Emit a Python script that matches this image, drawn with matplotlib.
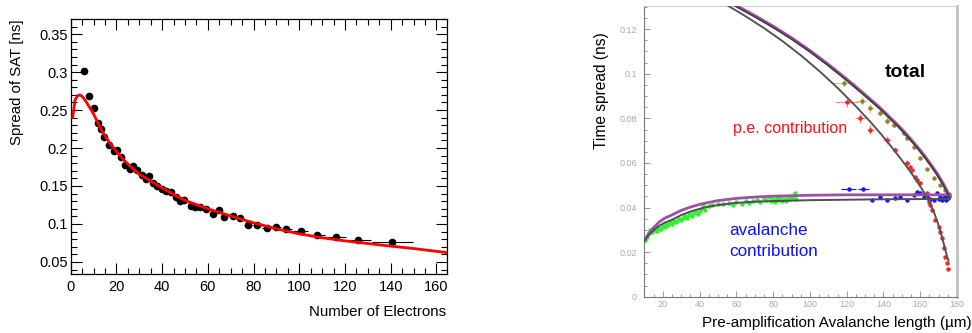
import matplotlib
matplotlib.use("Agg")
import matplotlib.pyplot as plt
from matplotlib.ticker import MultipleLocator, FixedLocator

plt.rcParams['font.family'] = ['Liberation Sans', 'DejaVu Sans']

# left panel: spread of SAT vs number of electrons
ne = [5.7, 7.9, 10.1, 11.8, 13.3, 14.7, 16.6, 18.9, 20.4, 21.9, 23.8, 26.0, 27.4, 28.9,
      31.0, 32.8, 34.4, 36.1, 37.6, 39.8, 41.5, 43.7, 45.9, 47.8, 49.7, 52.5, 54.6, 56.7,
      59.2, 62.1, 64.8, 67.2, 70.8, 74.0, 77.7, 81.6, 85.7, 89.8, 94.4, 100.7, 107.6,
      116.0, 125.9, 140.6]
sat = [0.302, 0.2686, 0.253, 0.2325, 0.2246, 0.215, 0.204, 0.1965, 0.198, 0.188, 0.1775,
       0.173, 0.176, 0.171, 0.165, 0.1587, 0.163, 0.1542, 0.150, 0.1455, 0.1433, 0.1424,
       0.1349, 0.1305, 0.1322, 0.1235, 0.1217, 0.1217, 0.1195, 0.1129, 0.1182, 0.1094,
       0.1107, 0.1085, 0.0984, 0.0984, 0.0944, 0.0957, 0.094, 0.0909, 0.0861, 0.083,
       0.0795, 0.076]
ne_err = [1.0] * 33 + [1.5, 1.8, 2.0, 2.0, 2.3, 2.6, 3.3, 3.7, 4.5, 5.5, 9.0]
sat_err = [0.004, 0.004, 0.003] + [0.002] * 41

fit_x = [0.9, 1.9, 3.0, 4.1, 5.2, 6.3, 8, 10, 12, 14.3, 17, 20, 23, 26, 30, 35, 40, 45,
         50, 55, 60, 70, 80, 90, 100, 110, 120, 130, 140, 150, 164.5]
fit_y = [0.2405, 0.263, 0.2690, 0.2699, 0.2675, 0.263, 0.255, 0.245, 0.2325, 0.2195,
         0.207, 0.1955, 0.185, 0.176, 0.1655, 0.1565, 0.1475, 0.139, 0.131, 0.1255, 0.120,
         0.1105, 0.1015, 0.0935, 0.0870, 0.0818, 0.0777, 0.0742, 0.0708, 0.0676, 0.0623]

# right panel: time spread vs pre-amplification avalanche length
av_x = [10, 12, 15, 18, 21, 25, 30, 35, 40, 45, 50, 60, 70, 80, 100, 120, 140, 160, 176]
av_fit1 = [0.0253, 0.0280, 0.0310, 0.0335, 0.0352, 0.0367, 0.0387, 0.0402, 0.0414, 0.0423,
           0.0431, 0.0441, 0.0447, 0.0451, 0.0455, 0.0457, 0.0457, 0.0457, 0.0457]
av_fit2 = [0.0250, 0.0273, 0.0298, 0.0318, 0.0332, 0.0345, 0.0366, 0.0382, 0.0394, 0.0404,
           0.0411, 0.0421, 0.0426, 0.0429, 0.0433, 0.0435, 0.0437, 0.0438, 0.0438]

tot_x = [56, 60.3, 70, 80, 90, 100, 110, 120, 130, 138.3, 148, 152, 156.4, 160, 163, 166,
         169.1, 172.5, 174.6, 176]
tot_y = [0.1323, 0.1304, 0.1260, 0.1212, 0.1160, 0.1103, 0.1041, 0.0975, 0.0905, 0.0845,
         0.0767, 0.0732, 0.0691, 0.0655, 0.0623, 0.0589, 0.0552, 0.0506, 0.0472, 0.0449]

pe_x = [52, 55.7, 65, 75, 85, 95, 105, 115, 125, 133, 138.3, 143, 148, 152, 156.4, 159, 162,
        165.5, 167.5, 169.5, 171.5, 173.5, 174.6, 175.4]
pe_y = [0.1322, 0.1304, 0.1258, 0.1205, 0.1147, 0.1083, 0.1013, 0.0937, 0.0854, 0.0783,
        0.0733, 0.0686, 0.0634, 0.0590, 0.0540, 0.0508, 0.0468, 0.0415, 0.0378, 0.0332,
        0.0278, 0.0215, 0.0180, 0.0162]

green_x = [10.5, 11.5, 12.5, 13, 14, 15, 16, 17, 18, 19, 20, 21, 22, 23, 24, 25, 26, 27, 28,
           29, 30, 31, 32, 33, 34, 35, 36, 37, 38, 39, 40, 41, 42, 43, 45, 47, 50, 53, 56,
           58, 60, 63, 65, 67, 69, 71, 73, 75, 76, 78, 79, 80, 81, 82, 83, 84, 85, 86, 87,
           88, 89, 90, 91, 92, 92.5]
green_y = [0.0255, 0.0270, 0.0285, 0.0300, 0.0290, 0.0298, 0.0302, 0.0295, 0.0310, 0.0305,
           0.0318, 0.0312, 0.0325, 0.0320, 0.0333, 0.0328, 0.0340, 0.0335, 0.0345, 0.0350,
           0.0342, 0.0355, 0.0360, 0.0352, 0.0365, 0.0370, 0.0362, 0.0375, 0.0380, 0.0372,
           0.0385, 0.0395, 0.0410, 0.0390, 0.0405, 0.0410, 0.0418, 0.0415, 0.0420, 0.0412,
           0.0425, 0.0418, 0.0430, 0.0420, 0.0428, 0.0435, 0.0425, 0.0440, 0.0432, 0.0445,
           0.0430, 0.0438, 0.0425, 0.0442, 0.0435, 0.0448, 0.0430, 0.0440, 0.0428, 0.0445,
           0.0438, 0.0450, 0.0442, 0.0465, 0.0440]

blue_x = [133.7, 138.3, 141.9, 146.4, 149.1, 152.8, 156.4, 158.2, 160, 162, 163.7, 165.5,
          167.3, 169.1, 170.2, 170.9, 171.8, 172.7, 173.5, 174.2, 174.6, 175.2, 175.6]
blue_y = [0.0434, 0.0449, 0.0434, 0.0441, 0.0449, 0.0434, 0.0456, 0.0471, 0.0464, 0.0445,
          0.0449, 0.0440, 0.0434, 0.0464, 0.0440, 0.0449, 0.0434, 0.0441, 0.0452, 0.0436,
          0.0456, 0.0444, 0.0450]
blue_bar_x = [121.1, 128.9]
blue_bar_y = [0.0484, 0.0484]
blue_bar_err = [4.0, 3.0]

red_x = [120.1, 127.4, 132.8, 141.9, 146.4, 152.8, 154.6, 155.5, 157.3, 158.2, 160, 163.7,
         164.6, 165.5, 166.4, 168.2, 170, 170.9, 171.8, 172.7, 173.6, 174.6, 175]
red_y = [0.0875, 0.0800, 0.0748, 0.0703, 0.0658, 0.0598, 0.0583, 0.0569, 0.0538, 0.0525,
         0.0509, 0.0464, 0.0426, 0.0411, 0.0389, 0.0344, 0.0314, 0.0292, 0.0262, 0.0217,
         0.0179, 0.0150, 0.0124]
red_xerr = [6, 3, 2, 2, 1.5, 1.5] + [0] * 17
red_yerr = [0.0022, 0.002, 0.002, 0.002, 0.0015, 0.0015] + [0] * 17

olive_x = [118.3, 128.3, 132.8, 138.3, 141.9, 145.6, 151, 152.8, 156.4, 160, 163.7, 167.3,
           170.9, 173.6, 175.6]
olive_y = [0.0960, 0.0880, 0.0845, 0.0825, 0.0790, 0.0770, 0.0735, 0.0712, 0.0670, 0.0620,
           0.0575, 0.0531, 0.0500, 0.0479, 0.0462]
olive_xerr = [6, 3, 2, 2, 1.5, 1.5, 1.5] + [0] * 8
olive_yerr = [0.002, 0.002, 0.002, 0.0015, 0.0015, 0.0015, 0.0015] + [0] * 8

fig = plt.figure(figsize=(9.72, 3.33), dpi=100)

# ---------- left ----------
ax1 = fig.add_axes([0.0727, 0.177, 0.3869, 0.766])
ax1.plot(fit_x, fit_y, color='#ff0000', lw=2, zorder=3)
ax1.errorbar(ne, sat, xerr=ne_err, yerr=sat_err, fmt='o', color='black', ms=4.5,
             elinewidth=0.8, capsize=0, zorder=2)
ax1.set_xlim(0, 164.5)
ax1.set_ylim(0.034, 0.370)
ax1.xaxis.set_major_locator(MultipleLocator(20))
ax1.xaxis.set_minor_locator(MultipleLocator(5))
ax1.yaxis.set_major_locator(FixedLocator([0.05, 0.1, 0.15, 0.2, 0.25, 0.3, 0.35]))
ax1.yaxis.set_minor_locator(MultipleLocator(0.01))
ax1.set_yticklabels(['0.05', '0.1', '0.15', '0.2', '0.25', '0.3', '0.35'])
ax1.tick_params(which='both', direction='in', top=True, right=True, labelsize=10.5)
ax1.tick_params(which='major', length=8, width=0.8)
ax1.tick_params(which='minor', length=4, width=0.8)
ax1.tick_params(axis='y', pad=2)
ax1.tick_params(axis='x', pad=4)
for s in ax1.spines.values():
    s.set_linewidth(0.9)
fig.text(17 / 972, 0.943, 'Spread of SAT [ns]', rotation=90, ha='center', va='top',
         fontsize=10.8)
fig.text(446 / 972, 1 - 312 / 333, 'Number of Electrons', ha='right', va='center',
         fontsize=10.8)

# ---------- right ----------
ax2 = fig.add_axes([0.6626, 0.109, 0.322, 0.873])
ax2.plot(av_x, av_fit1, color='#a050a8', lw=2, zorder=3)
ax2.plot(av_x, av_fit2, color='#505050', lw=1.4, zorder=3)
ax2.plot(tot_x, tot_y, color='#a050a8', lw=2.4, zorder=3)
ax2.plot(tot_x, [v - 0.0004 for v in tot_y], color='#404040', lw=1.2, zorder=4)
ax2.plot(pe_x, pe_y, color='#555555', lw=1.4, zorder=3)
ax2.plot(green_x, green_y, 'o', color='#33ee33', ms=2.2, zorder=2)
ax2.plot(blue_x, blue_y, 'o', color='#1414ff', ms=2.2, zorder=2)
ax2.errorbar(blue_bar_x, blue_bar_y, xerr=blue_bar_err, fmt='o', color='#1414ff', ms=2.2,
             elinewidth=0.8, capsize=0, zorder=2)
ax2.errorbar(red_x, red_y, xerr=red_xerr, yerr=red_yerr, fmt='o', color='#ff2020', ms=2.2,
             elinewidth=0.8, ecolor='#ff8080', capsize=0, zorder=2)
ax2.errorbar(olive_x, olive_y, xerr=olive_xerr, yerr=olive_yerr, fmt='o', color='#8a8a20',
             ms=2.2, elinewidth=0.8, ecolor='#c8c890', capsize=0, zorder=2)
ax2.set_xlim(9.8, 180)
ax2.set_ylim(0, 0.1304)
ax2.xaxis.set_minor_locator(MultipleLocator(5))
ax2.yaxis.set_minor_locator(MultipleLocator(0.005))
ax2.set_xticks([20, 40, 60, 80, 100, 120, 140, 160, 180])
ax2.set_xticklabels(['20', '40', '60', '80', '100', '120', '140', '160', '180'])
ax2.set_yticks([0, 0.02, 0.04, 0.06, 0.08, 0.1, 0.12])
ax2.set_yticklabels(['0', '0.02', '0.04', '0.06', '0.08', '0.1', '0.12'])
ax2.tick_params(which='both', direction='in', colors='#999999', labelcolor='#aaaaaa',
                labelsize=6.5)
ax2.tick_params(which='major', length=4.5, width=0.7)
ax2.tick_params(which='minor', length=2.5, width=0.7)
ax2.tick_params(axis='y', pad=5)
ax2.tick_params(axis='x', pad=2.5)
ax2.spines['left'].set_color('#777777')
ax2.spines['bottom'].set_color('#777777')
ax2.spines['top'].set_color('#d0d0d0')
ax2.spines['right'].set_color('#c0c0c0')
ax2.spines['right'].set_linewidth(2)

ax2.text(0.77, 0.772, 'total', transform=ax2.transAxes, fontsize=14, fontweight='bold',
         color='black', ha='left', va='center')
ax2.text(0.284, 0.577, 'p.e. contribution', transform=ax2.transAxes, fontsize=11.5,
         color='#ff1010', ha='left', va='center')
ax2.text(0.272, 0.229, 'avalanche', transform=ax2.transAxes, fontsize=12.3,
         color='#1010ff', ha='left', va='center')
ax2.text(0.272, 0.154, 'contribution', transform=ax2.transAxes, fontsize=12.3,
         color='#1010ff', ha='left', va='center')

fig.text(601 / 972, 1 - 90.5 / 333, 'Time spread (ns)', rotation=90, ha='center',
         va='center', fontsize=11.2)
fig.text(702 / 972, 1 - 323 / 333, 'Pre-amplification Avalanche length (µm)', ha='left',
         va='center', fontsize=11)

fig.savefig('out.png', dpi=100)
